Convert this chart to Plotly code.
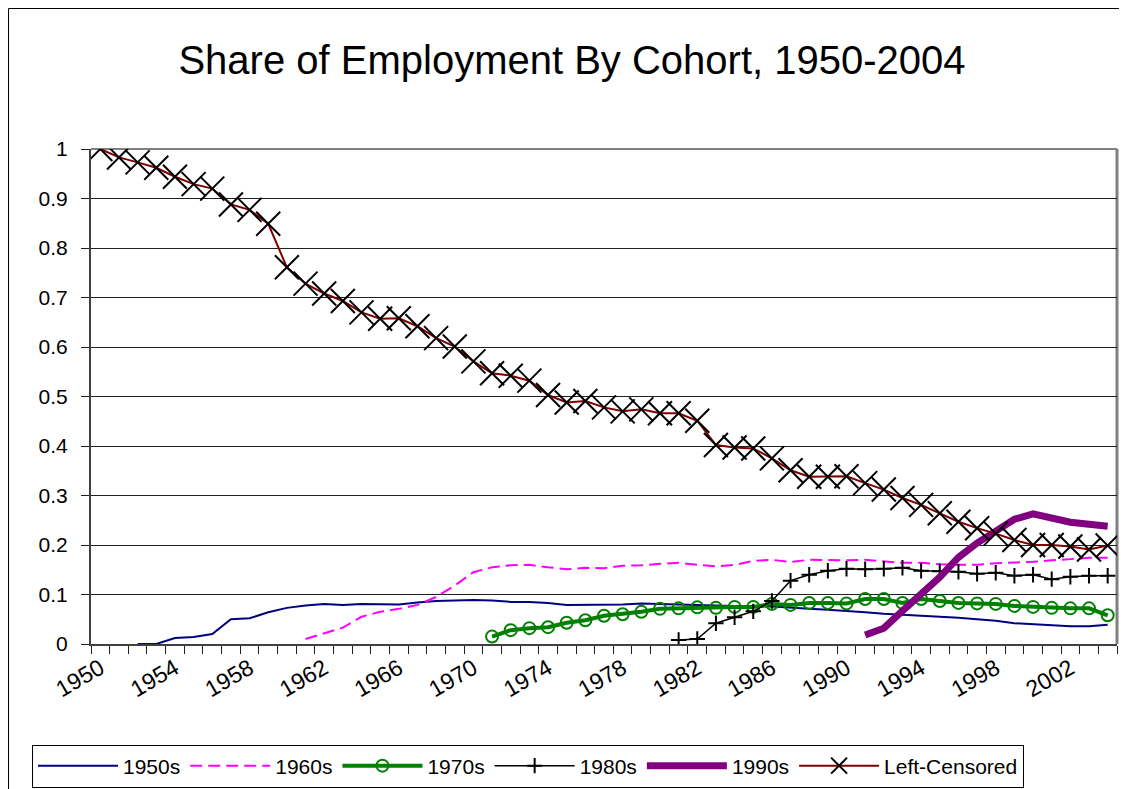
import plotly.graph_objects as go

years = list(range(1950, 2005))

left_censored = [1.000, 0.983, 0.973, 0.962, 0.944, 0.929, 0.920, 0.888, 0.877, 0.849,
                 0.761, 0.728, 0.708, 0.693, 0.670, 0.657, 0.658, 0.642, 0.618, 0.601,
                 0.571, 0.547, 0.542, 0.532, 0.503, 0.488, 0.491, 0.478, 0.470, 0.474,
                 0.466, 0.466, 0.451, 0.402, 0.397, 0.395, 0.375, 0.351, 0.338, 0.338,
                 0.339, 0.325, 0.312, 0.295, 0.281, 0.264, 0.247, 0.234, 0.223, 0.210,
                 0.200, 0.200, 0.197, 0.191, 0.199]

c1950s_start = 1952
c1950s = [0.000, 0.000, 0.012, 0.014, 0.020, 0.050, 0.052, 0.064, 0.073, 0.078,
          0.081, 0.079, 0.081, 0.080, 0.080, 0.084, 0.087, 0.088, 0.089, 0.088,
          0.085, 0.085, 0.083, 0.079, 0.079, 0.079, 0.080, 0.082, 0.081, 0.079,
          0.078, 0.077, 0.076, 0.076, 0.076, 0.073, 0.071, 0.069, 0.067, 0.064,
          0.061, 0.059, 0.057, 0.056, 0.053, 0.050, 0.047, 0.042, 0.040, 0.038,
          0.036, 0.036, 0.039]

c1960s_start = 1961
c1960s = [0.010, 0.022, 0.033, 0.055, 0.065, 0.071, 0.079, 0.095, 0.118, 0.145,
          0.155, 0.159, 0.160, 0.155, 0.151, 0.154, 0.153, 0.158, 0.159, 0.162,
          0.164, 0.160, 0.157, 0.160, 0.168, 0.170, 0.166, 0.170, 0.169, 0.169,
          0.170, 0.167, 0.164, 0.164, 0.161, 0.160, 0.160, 0.163, 0.164, 0.166,
          0.169, 0.171, 0.174, 0.174]

c1970s_start = 1971
c1970s = [0.015, 0.028, 0.032, 0.034, 0.043, 0.048, 0.057, 0.060, 0.065, 0.071,
          0.072, 0.074, 0.073, 0.075, 0.075, 0.081, 0.079, 0.083, 0.083, 0.082,
          0.091, 0.091, 0.083, 0.091, 0.087, 0.083, 0.082, 0.081, 0.077, 0.075,
          0.073, 0.072, 0.072, 0.058]

c1980s_start = 1981
c1980s = [0.008, 0.010, 0.042, 0.054, 0.066, 0.087, 0.128, 0.140, 0.148, 0.152,
          0.151, 0.152, 0.154, 0.148, 0.147, 0.146, 0.142, 0.144, 0.138, 0.140,
          0.131, 0.136, 0.138, 0.138]

c1990s_start = 1991
c1990s = [0.018, 0.032, 0.067, 0.099, 0.135, 0.175, 0.204, 0.228, 0.252, 0.263,
          0.253, 0.246, 0.242, 0.238]

x_labels = [1950, 1954, 1958, 1962, 1966, 1970, 1974, 1978, 1982, 1986, 1990, 1994, 1998, 2002]
y_ticks = [0, 0.1, 0.2, 0.3, 0.4, 0.5, 0.6, 0.7, 0.8, 0.9, 1]
y_labels = ["0", "0.1", "0.2", "0.3", "0.4", "0.5", "0.6", "0.7", "0.8", "0.9", "1"]


def xs(start, vals):
    i = years.index(start)
    return years[i:i + len(vals)]


FONT = "Liberation Sans, Arial, sans-serif"

fig = go.Figure()
fig.add_trace(go.Scatter(x=xs(c1950s_start, c1950s), y=c1950s, name="1950s", mode="lines",
                         line=dict(color="#000080", width=2)))
fig.add_trace(go.Scatter(x=xs(c1960s_start, c1960s), y=c1960s, name="1960s", mode="lines",
                         line=dict(color="#FF00FF", width=2, dash="12px,6px")))
fig.add_trace(go.Scatter(x=xs(c1970s_start, c1970s), y=c1970s, name="1970s", mode="lines+markers",
                         line=dict(color="#008000", width=4),
                         marker=dict(symbol="circle-open", size=12, color="#008000",
                                     line=dict(width=2, color="#008000"))))
fig.add_trace(go.Scatter(x=xs(c1980s_start, c1980s), y=c1980s, name="1980s", mode="lines+markers",
                         line=dict(color="#000000", width=1.5),
                         marker=dict(symbol="cross-thin", size=11, color="#000000",
                                     line=dict(width=2, color="#000000"))))
fig.add_trace(go.Scatter(x=xs(c1990s_start, c1990s), y=c1990s, name="1990s", mode="lines",
                         line=dict(color="#800080", width=7)))
fig.add_trace(go.Scatter(x=years, y=left_censored, name="Left-Censored", mode="lines+markers",
                         line=dict(color="#800000", width=2),
                         marker=dict(symbol="x-thin", size=24, color="#000000",
                                     line=dict(width=2, color="#000000"))))

W, H = 1127, 789
OFF = 8  # page body margin offset
L, R, T, B = 91 - OFF, 1117 - OFF, 149 - OFF, 644 - OFF
pw, ph = R - L, B - T


def px_x(p):
    return (p - L) / pw


def px_y(p):
    return (B - p) / ph


fig.update_layout(
    width=W, height=H,
    margin=dict(l=L, r=W - R, t=T, b=H - B, autoexpand=False),
    paper_bgcolor="white", plot_bgcolor="white",
    font=dict(family=FONT, color="black", size=20),
    title=dict(text="Share of Employment By Cohort, 1950-2004", x=(572 - OFF) / W, xanchor="center",
               y=1 - (60 - OFF) / H, yanchor="middle", xref="container", yref="container",
               font=dict(family=FONT, size=40, color="black")),
    xaxis=dict(range=[1949.5, 2004.5], tickmode="array", tickvals=x_labels,
               ticktext=[str(v) for v in x_labels], tickangle=-30, ticks="",
               showgrid=False, zeroline=False, showline=True, linecolor="#404040", linewidth=2,
               automargin=False,
               tickfont=dict(family=FONT, size=23, color="black"),
               minor=dict(tickmode="linear", tick0=1949.5, dtick=1, ticks="outside",
                          ticklen=8, tickwidth=1, tickcolor="#202020", showgrid=False)),
    yaxis=dict(range=[0, 1], tickmode="array", tickvals=y_ticks, ticktext=y_labels,
               ticks="outside", ticklen=8, tickcolor="#202020", ticklabelstandoff=9,
               showgrid=True, gridcolor="#202020", gridwidth=1, zeroline=False,
               showline=True, linecolor="#404040", linewidth=2, automargin=False,
               tickfont=dict(family=FONT, size=21, color="black")),
    legend=dict(orientation="h", xref="container", yref="container",
                x=(32 - OFF) / W, y=1 - (766 - OFF) / H, xanchor="left", yanchor="middle",
                bordercolor="black", borderwidth=1, bgcolor="white",
                font=dict(family=FONT, size=21, color="black"),
                itemwidth=80, tracegroupgap=0),
    showlegend=True,
)

# gray plot border (top and right)
fig.add_shape(type="line", xref="paper", yref="paper", x0=0, x1=1, y0=1, y1=1,
              line=dict(color="#808080", width=2), layer="below")
fig.add_shape(type="line", xref="paper", yref="paper", x0=1, x1=1, y0=0, y1=1,
              line=dict(color="#808080", width=3), layer="below")
# outer chart border
fig.add_shape(type="rect", xref="paper", yref="paper",
              x0=px_x(0.5), x1=px_x(W + 20), y0=px_y(H + 20), y1=px_y(0.5),
              line=dict(color="black", width=1), fillcolor="rgba(0,0,0,0)", layer="below")

fig.write_html("out.html")
